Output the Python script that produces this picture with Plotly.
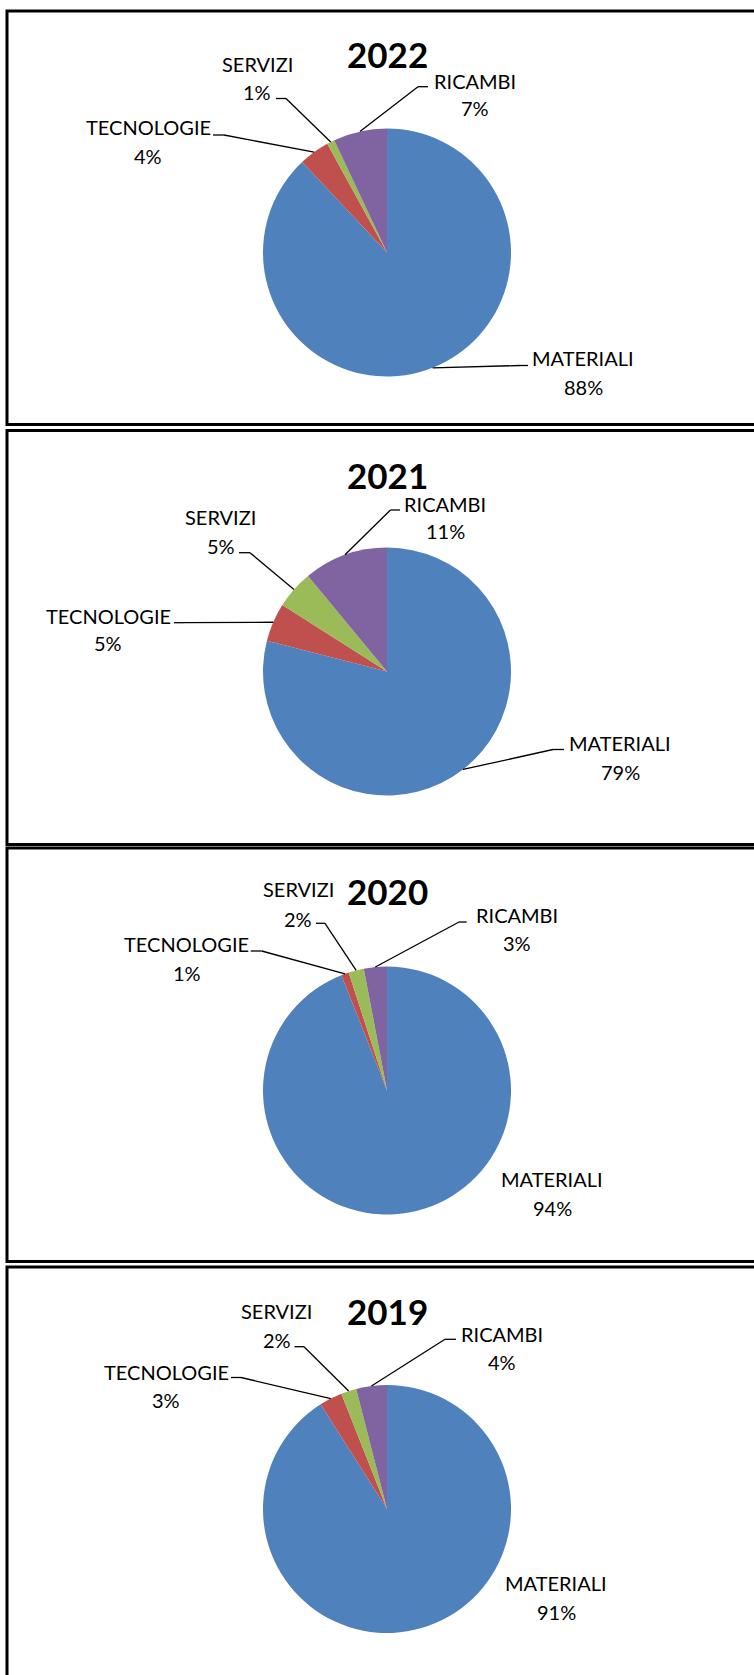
import math
import plotly.graph_objects as go

# ---------------- data ----------------
years = ["2022", "2021", "2020", "2019"]
categories = ["MATERIALI", "TECNOLOGIE", "SERVIZI", "RICAMBI"]
values_2022 = [88, 4, 1, 7]
values_2021 = [79, 5, 5, 11]
values_2020 = [94, 1, 2, 3]
values_2019 = [91, 3, 2, 4]
series = {"2022": values_2022, "2021": values_2021, "2020": values_2020, "2019": values_2019}
colors = ["#4F81BD", "#C0504D", "#9BBB59", "#8064A2"]

# ---------------- layout (pixels) ----------------
W, H = 754, 1675
CX, R = 387, 124
pie_cy = {"2022": 252.5, "2021": 671.5, "2020": 1090.5, "2019": 1509}
title_y = {"2022": 53.5, "2021": 474.5, "2020": 891, "2019": 1311}
box_top = [11, 430.5, 848, 1267]
box_bottom = [424.5, 844.5, 1261.5, 1700]

# label: (x, y of name line, y of percent line, leader (start x, start y, elbow x) or None)
label_pos = {
    "2022": {
        "MATERIALI": (583, 358, 387, (528, 365.5, 520)),
        "TECNOLOGIE": (148, 127.5, 155.5, (213, 135, 224)),
        "SERVIZI": (257, 64, 92, (276, 98.5, 286)),
        "RICAMBI": (475, 80.5, 108.3, (428, 86.7, 418)),
    },
    "2021": {
        "MATERIALI": (620, 743.3, 772, (564, 749.5, 553)),
        "TECNOLOGIE": (108, 615.5, 643.3, (174, 622.7, 184)),
        "SERVIZI": (221, 517, 545.5, (239, 552.7, 250)),
        "RICAMBI": (445, 503.8, 531, (400, 510, 390.5)),
    },
    "2020": {
        "MATERIALI": (552, 1179, 1208, None),
        "TECNOLOGIE": (186.5, 944, 973, (250.7, 951, 261.7)),
        "SERVIZI": (298, 889, 919, (316, 923.3, 325)),
        "RICAMBI": (517, 915, 943, (466.7, 922, 459)),
    },
    "2019": {
        "MATERIALI": (556, 1583.3, 1612, None),
        "TECNOLOGIE": (166, 1372, 1400, (231, 1377.5, 241)),
        "SERVIZI": (276.5, 1311, 1339.7, (294.5, 1346.7, 304)),
        "RICAMBI": (502, 1334.2, 1362, (456, 1339.3, 445)),
    },
}

LABEL_FONT = dict(family="Lato, 'Open Sans', sans-serif", size=20, color="#000000")
TITLE_FONT = dict(family="Lato, 'Open Sans', sans-serif", size=35, color="#000000")


def px(x):
    return x / W


def py(y):
    return 1 - y / H


fig = go.Figure()
shapes = []
annotations = []

# panel frames
for t, b in zip(box_top, box_bottom):
    shapes.append(dict(type="rect", xref="paper", yref="paper",
                       x0=px(7), x1=px(790), y0=py(b), y1=py(t),
                       line=dict(color="#000000", width=3), fillcolor="rgba(0,0,0,0)",
                       layer="below"))

for yr in years:
    vals = series[yr]
    cy = pie_cy[yr]
    fig.add_trace(go.Pie(
        values=vals, labels=categories, sort=False, direction="clockwise",
        rotation=0, textinfo="none", hoverinfo="label+percent",
        marker=dict(colors=colors, line=dict(width=0)),
        showlegend=False,
        domain=dict(x=[px(CX - R), px(CX + R)], y=[py(cy + R), py(cy - R)]),
    ))
    annotations.append(dict(text="<b>%s</b>" % yr, x=px(CX), y=py(title_y[yr]),
                            xref="paper", yref="paper", showarrow=False,
                            xanchor="center", yanchor="middle", font=TITLE_FONT))
    total = sum(vals)
    cum = 0
    for cat, v in zip(categories, vals):
        mid = (cum + v / 2) / total
        cum += v
        ang = 2 * math.pi * mid
        ex_pt = CX + R * math.sin(ang)
        ey_pt = cy - R * math.cos(ang)
        lx, ly1, ly2, lead = label_pos[yr][cat]
        pct = "%d%%" % round(v / total * 100)
        annotations.append(dict(text=cat, x=px(lx), y=py(ly1), xref="paper", yref="paper",
                                showarrow=False, xanchor="center", yanchor="middle",
                                font=LABEL_FONT))
        annotations.append(dict(text=pct, x=px(lx), y=py(ly2), xref="paper", yref="paper",
                                showarrow=False, xanchor="center", yanchor="middle",
                                font=LABEL_FONT))
        if lead is not None:
            sx, sy, elx = lead
            shapes.append(dict(type="line", xref="paper", yref="paper",
                               x0=px(sx), y0=py(sy), x1=px(elx), y1=py(sy),
                               line=dict(color="#000000", width=1.3)))
            shapes.append(dict(type="line", xref="paper", yref="paper",
                               x0=px(elx), y0=py(sy), x1=px(ex_pt), y1=py(ey_pt),
                               line=dict(color="#000000", width=1.3)))

fig.update_layout(
    width=W, height=H,
    margin=dict(l=0, r=0, t=0, b=0),
    paper_bgcolor="#FFFFFF", plot_bgcolor="#FFFFFF",
    shapes=shapes, annotations=annotations,
)

fig.write_html("out.html", config={"displayModeBar": False},
               post_script="document.body.style.margin='0';document.body.style.overflow='hidden';")
